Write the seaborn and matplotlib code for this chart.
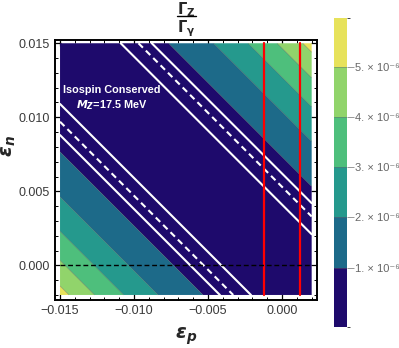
import numpy as np
import pandas as pd
import seaborn as sns
import matplotlib
matplotlib.use("Agg")
import matplotlib.pyplot as plt
from matplotlib.colors import ListedColormap, BoundaryNorm
from matplotlib.lines import Line2D
import matplotlib.colorbar as mcolorbar
from matplotlib.ticker import MultipleLocator

# ---- data ----
eps_p_range = [-0.015, 0.002]
eps_n_range = [-0.002, 0.015]
ratio_coeff = 0.0186          # Gamma_Z/Gamma_gamma = coeff * (eps_p + eps_n)^2
levels = [0, 1e-6, 2e-6, 3e-6, 4e-6, 5e-6, 6e-6]
band_colors = ["#1e0a6c", "#1d6a89", "#25998d", "#4ebf7c", "#91d46b", "#e7e25b"]
# white constraint bands: eps_p + eps_n = value
upper_band = [0.0041, 0.0053, 0.0062]
lower_band = [-0.0041, -0.0053, -0.0062]
band_styles = ["solid", "dashed", "solid"]
red_lines = [-0.00123, 0.00120]
cbar_ticks = [1e-6, 2e-6, 3e-6, 4e-6, 5e-6]
cbar_labels = ["1. \u00d7 10\u207b\u2076", "2. \u00d7 10\u207b\u2076",
               "3. \u00d7 10\u207b\u2076", "4. \u00d7 10\u207b\u2076",
               "5. \u00d7 10\u207b\u2076"]
xticks = [-0.015, -0.010, -0.005, 0.000]
xticklabels = ["\u22120.015", "\u22120.010", "\u22120.005", "0.000"]
yticks = [0.000, 0.005, 0.010, 0.015]
yticklabels = ["0.000", "0.005", "0.010", "0.015"]

sns.set_style("white")
plt.rcParams["font.family"] = ["Liberation Sans", "DejaVu Sans"]
plt.rcParams["mathtext.fontset"] = "custom"
plt.rcParams["mathtext.rm"] = "Liberation Sans"
plt.rcParams["mathtext.it"] = "Liberation Sans:italic"
plt.rcParams["mathtext.bf"] = "DejaVu Sans:bold"
plt.rcParams["mathtext.bfit"] = "DejaVu Sans:bold:italic"

fig = plt.figure(figsize=(3.99, 3.48), dpi=100)
ax = fig.add_axes([55/399, 1-300/348, 262/399, 260/348])

ep = np.linspace(*eps_p_range, 300)
en = np.linspace(*eps_n_range, 300)
EP, EN = np.meshgrid(ep, en)
Z = ratio_coeff * (EP + EN) ** 2

cmap = ListedColormap(band_colors)
norm = BoundaryNorm(levels, cmap.N)
ax.contourf(EP, EN, Z, levels=levels, cmap=cmap, norm=norm, antialiased=True)
ax.contour(EP, EN, Z, levels=levels[1:-1], colors="#3a3a3a", linewidths=0.4, alpha=0.5)

def band_line(u):
    x0 = max(eps_p_range[0], u - eps_n_range[1])
    x1 = min(eps_p_range[1], u - eps_n_range[0])
    xs = np.array([x0, x1])
    return xs, u - xs

for band in (upper_band, lower_band):
    for u, st in zip(band, band_styles):
        xs, ys = band_line(u)
        df = pd.DataFrame({"x": xs, "y": ys})
        l = sns.lineplot(data=df, x="x", y="y", ax=ax, color="white", lw=1.5,
                         sort=False, estimator=None)
        if st == "dashed":
            l.lines[-1].set_dashes([3, 2])

for xr in red_lines:
    df = pd.DataFrame({"x": [xr, xr], "y": eps_n_range})
    sns.lineplot(data=df, x="x", y="y", ax=ax, color="#ff0000", lw=1.6,
                 sort=False, estimator=None)

df0 = pd.DataFrame({"x": eps_p_range, "y": [0, 0]})
sns.lineplot(data=df0, x="x", y="y", ax=ax, color="black", lw=1.0,
             sort=False, estimator=None)
ax.lines[-1].set_dashes([3.5, 2])

ax.set_xlim(-0.01534, 0.00236)
ax.set_ylim(-0.00234, 0.01522)
ax.set_xlabel("")
ax.set_ylabel("")
ax.set_xticks(xticks)
ax.set_yticks(yticks)
ax.set_xticklabels(xticklabels)
ax.set_yticklabels(yticklabels)
ax.xaxis.set_minor_locator(MultipleLocator(0.001))
ax.yaxis.set_minor_locator(MultipleLocator(0.001))
ax.tick_params(which="both", direction="in", top=True, right=True,
               bottom=True, left=True, color="black")
ax.tick_params(which="major", length=4, width=0.9, labelsize=9,
               labelcolor="#3a3a3a", pad=3.5)
ax.tick_params(which="minor", length=2.2, width=0.7)
for s in ax.spines.values():
    s.set_color("black")
    s.set_linewidth(1.4)

ax.text(-0.0115, 0.01185, "Isospin Conserved", color="white", fontsize=7.8,
        fontweight="bold", ha="center", va="center")
ax.text(-0.0115, 0.01085, r"$\mathbfit{M_Z}$" + "=17.5 MeV", color="white",
        fontsize=7.8, fontweight="bold", ha="center", va="center")

# title: Gamma_Z over Gamma_gamma
fig.text(186/399, 1-9.5/348, r"$\mathbf{\Gamma_Z}$", ha="center", va="center",
         fontsize=10.5)
fig.add_artist(Line2D([176.5/399, 195.5/399], [1-15.5/348, 1-15.5/348],
                      color="black", lw=1.0, transform=fig.transFigure))
fig.text(186/399, 1-28.5/348, r"$\mathbf{\Gamma_\gamma}$", ha="center", va="center",
         fontsize=10.5)

fig.text(186/399, 1-336/348, r"$\mathbfit{\epsilon_p}$", ha="center",
         va="center", fontsize=14)
fig.text(9/399, 1-146/348, r"$\mathbfit{\epsilon_n}$", ha="center",
         va="center", fontsize=14, rotation=90)

# colorbar
cax = fig.add_axes([333.5/399, 1-327.3/348, 13.2/399, 309/348])
cb_bounds = [-0.19e-6, 1e-6, 2e-6, 3e-6, 4e-6, 5e-6, 5.96e-6]
cb = mcolorbar.ColorbarBase(cax, cmap=cmap, norm=BoundaryNorm(cb_bounds, cmap.N),
                            boundaries=cb_bounds, spacing="proportional",
                            orientation="vertical")
cb.outline.set_visible(False)
cb.set_ticks(cbar_ticks)
cb.set_ticklabels(cbar_labels)
cax.tick_params(length=5, width=0.6, color="#888888", labelsize=8,
                labelcolor="#666666", pad=1)
for t in cbar_ticks:
    cax.axhline(t, color="#666666", lw=0.5, alpha=0.6)

fig.savefig("out.png", dpi=100)
